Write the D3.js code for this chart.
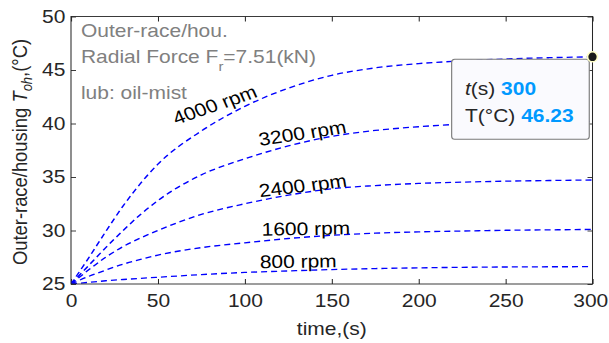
<!DOCTYPE html>
<html>
<head>
<meta charset="utf-8">
<script src="https://cdn.jsdelivr.net/npm/d3@7"></script>
<style>
  html, body { margin: 0; padding: 0; background: #fff; }
  svg { display: block; }
</style>
</head>
<body>
<script>
// Time samples (s) and outer-race/housing temperature (°C) for each shaft speed
const time    = [0, 10, 20, 30, 40, 50, 75, 100, 125, 150, 175, 200, 225, 250, 275, 300];
const rpm4000 = [25, 27.4, 29.9, 32.3, 34.4, 36.2, 39.3, 41.6, 43.3, 44.5, 45.2, 45.6, 45.85, 46.03, 46.15, 46.23];
const rpm3200 = [25, 26.7, 28.4, 30.0, 31.5, 32.8, 35.2, 36.7, 37.9, 38.8, 39.35, 39.7, 39.95, 40.08, 40.15, 40.2];
const rpm2400 = [25, 26.3, 27.5, 28.5, 29.3, 30.0, 31.5, 32.5, 33.3, 33.9, 34.2, 34.4, 34.52, 34.61, 34.67, 34.72];
const rpm1600 = [25, 25.7, 26.3, 26.85, 27.3, 27.7, 28.4, 28.85, 29.25, 29.55, 29.75, 29.87, 29.95, 30.02, 30.06, 30.1];
const rpm800  = [25, 25.15, 25.3, 25.42, 25.53, 25.63, 25.88, 26.08, 26.22, 26.35, 26.44, 26.51, 26.56, 26.59, 26.61, 26.62];

const seriesNames = ["4000 rpm", "3200 rpm", "2400 rpm", "1600 rpm", "800 rpm"];
const seriesValues = [rpm4000, rpm3200, rpm2400, rpm1600, rpm800];

const xTicks = [0, 50, 100, 150, 200, 250, 300];
const yTicks = [25, 30, 35, 40, 45, 50];

const notes = ["Outer-race/hou.", "Radial Force F", "lub: oil-mist"];
const forceValue = "=7.51(kN)";

// Data tip on the 4000 rpm curve
const tipTime = 300;
const tipTemp = 46.23;

// ---- layout ----
const SX = 1.14;                 // horizontal stretch of the drawing
const W = 609, H = 343, VW = W / SX;
const plotLeft = 71 / SX, plotRight = 592.5 / SX, plotTop = 16.5, plotBottom = 284;
const FONT = "'Liberation Sans', Arial, Helvetica, sans-serif";
const AX = "#262626";

const svg = d3.select("body").append("svg")
  .attr("width", W).attr("height", H)
  .attr("viewBox", `0 0 ${VW} ${H}`)
  .attr("preserveAspectRatio", "none")
  .style("font-family", FONT);

const x = d3.scaleLinear().domain([0, 300]).range([plotLeft, plotRight]);
const y = d3.scaleLinear().domain([25, 50]).range([plotBottom, plotTop]);

svg.append("defs").append("clipPath").attr("id", "plot-clip")
  .append("rect").attr("x", plotLeft).attr("y", plotTop)
  .attr("width", plotRight - plotLeft).attr("height", plotBottom - plotTop);

// ---- axes (ticks point inwards, mirrored on top and right) ----
function styleAxis(g) {
  g.select(".domain").remove();
  g.selectAll(".tick line").attr("stroke", AX).attr("stroke-width", 0.9);
  g.selectAll(".tick text").attr("fill", AX).style("font-size", "18.4px").style("font-family", FONT);
}
const xAxisG = svg.append("g").attr("transform", `translate(0,${plotBottom})`)
  .call(d3.axisBottom(x).tickValues(xTicks).tickSize(-5).tickPadding(9.5).tickFormat(d3.format("d")))
  .call(styleAxis);
// keep the last label inside the window edge
xAxisG.selectAll(".tick text").filter(d => d === xTicks[xTicks.length - 1]).attr("dx", -2);

svg.append("g").attr("transform", `translate(0,${plotTop})`)
  .call(d3.axisTop(x).tickValues(xTicks).tickSize(-5).tickFormat(""))
  .call(styleAxis);
svg.append("g").attr("transform", `translate(${plotLeft},0)`)
  .call(d3.axisLeft(y).tickValues(yTicks).tickSize(-5 / SX).tickPadding(5).tickFormat(d3.format("d")))
  .call(styleAxis);
svg.append("g").attr("transform", `translate(${plotRight},0)`)
  .call(d3.axisRight(y).tickValues(yTicks).tickSize(-5 / SX).tickFormat(""))
  .call(styleAxis);

// ---- curves ----
const line = d3.line()
  .x((d, i) => x(time[i]))
  .y(d => y(d))
  .curve(d3.curveMonotoneX);

const plot = svg.append("g").attr("clip-path", "url(#plot-clip)");
plot.selectAll("path.curve").data(seriesValues).join("path")
  .attr("class", "curve")
  .attr("d", line)
  .attr("fill", "none")
  .attr("stroke", "#0000ff")
  .attr("stroke-width", 1.35)
  .attr("stroke-dasharray", "5.3,3.5");

// start marker at the common initial temperature
plot.append("circle")
  .attr("cx", x(time[0])).attr("cy", y(rpm800[0])).attr("r", 3)
  .attr("fill", "#0000ff");

// ---- plot frame ----
svg.append("rect")
  .attr("x", plotLeft).attr("y", plotTop)
  .attr("width", plotRight - plotLeft).attr("height", plotBottom - plotTop)
  .attr("fill", "none").attr("stroke", AX).attr("stroke-width", 0.9);

// ---- curve labels ----
const labelPos = [
  { x: 154.5, y: 125,   a: -21.5 },
  { x: 228,   y: 146,   a: -9.8 },
  { x: 228,   y: 197.3, a: -7.9 },
  { x: 229.6, y: 235.7, a: -1 },
  { x: 228,   y: 268.3, a: -1 }
];
svg.selectAll("text.speed").data(seriesNames).join("text")
  .attr("class", "speed")
  .attr("transform", (d, i) => `translate(${labelPos[i].x},${labelPos[i].y}) rotate(${labelPos[i].a})`)
  .attr("fill", "#000")
  .style("font-size", "18.4px")
  .text(d => d);

// ---- notes (top left) ----
const noteG = svg.append("g").attr("fill", "#808080").style("font-size", "18.4px");
noteG.append("text").attr("x", 71).attr("y", 37).text(notes[0]);
const force = noteG.append("text").attr("x", 71).attr("y", 63);
force.append("tspan").text(notes[1]);
force.append("tspan").attr("dy", 8).style("font-size", "13px").text("r");
force.append("tspan").attr("dy", -8).text(forceValue);
noteG.append("text").attr("x", 71).attr("y", 99.5).text(notes[2]);

// ---- axis titles ----
svg.append("text")
  .attr("x", (plotLeft + plotRight) / 2).attr("y", 335)
  .attr("text-anchor", "middle").attr("fill", AX)
  .style("font-size", "18.4px")
  .text("time,(s)");

const yTitle = svg.append("text")
  .attr("transform", `translate(24.1,152) rotate(-90)`)
  .attr("text-anchor", "middle").attr("fill", AX)
  .style("font-size", "18.4px");
yTitle.append("tspan").text("Outer-race/housing ");
yTitle.append("tspan").style("font-style", "italic").text("T");
yTitle.append("tspan").style("font-style", "italic").style("font-size", "13px").attr("dy", 4).text("oh");
yTitle.append("tspan").attr("dy", -4).text(",(°C)");

// ---- data tip ----
const tip = svg.append("g");
tip.append("rect")
  .attr("x", 396.2).attr("y", 59.3)
  .attr("width", 120.7).attr("height", 80)
  .attr("rx", 3 / SX).attr("ry", 3)
  .attr("fill", "#fafafe").attr("stroke", "#7a7a7a").attr("stroke-width", 1);
const t1 = tip.append("text").attr("x", 407.9).attr("y", 95).attr("fill", AX).style("font-size", "18.4px");
t1.append("tspan").style("font-style", "italic").text("t");
t1.append("tspan").text("(s) ");
t1.append("tspan").attr("fill", "#0099ff").style("font-weight", "bold").text(tipTime);
const t2 = tip.append("text").attr("x", 407.9).attr("y", 121.7).attr("fill", AX).style("font-size", "18.4px");
t2.append("tspan").text("T(°C) ");
t2.append("tspan").attr("fill", "#0099ff").style("font-weight", "bold").text(tipTemp.toFixed(2));

svg.append("ellipse")
  .attr("cx", x(tipTime)).attr("cy", y(tipTemp))
  .attr("rx", 5 / SX).attr("ry", 5)
  .attr("fill", "#1a1a1a").attr("stroke", "#ffffc8").attr("stroke-width", 1.5);
</script>
</body>
</html>
